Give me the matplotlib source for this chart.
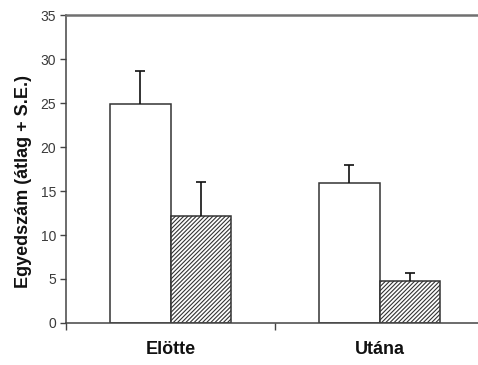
import matplotlib
matplotlib.use("Agg")
import matplotlib.pyplot as plt
import numpy as np

plt.rcParams['font.family'] = ['Liberation Sans', 'DejaVu Sans']
plt.rcParams['hatch.linewidth'] = 0.8
plt.rcParams['hatch.color'] = '#333333'

# Data: mean counts with standard error, before/after
categories = ["Elötte", "Utána"]
group_a_mean = [24.9, 15.9]
group_a_se = [3.7, 2.1]
group_b_mean = [12.2, 4.75]
group_b_se = [3.8, 0.9]
y_ticks = [0, 5, 10, 15, 20, 25, 30, 35]

fig = plt.figure(figsize=(4.78, 3.65), dpi=100)
ax = fig.add_axes([66 / 478, 1 - 323 / 365, 418 / 478, 308 / 365])

centers = np.arange(len(categories)) + 0.5
width = 0.29
edge = '#333333'

ax.bar(centers - width / 2, group_a_mean, width, color='white',
       edgecolor=edge, linewidth=1.1, zorder=2)
ax.bar(centers + width / 2, group_b_mean, width, color='white',
       edgecolor=edge, linewidth=1.1, hatch='////////', zorder=2)

# One-sided (+SE) error bars; hide the lower caps
err_kw = dict(fmt='none', ecolor='#111111', elinewidth=1.2, capsize=3.3,
              capthick=1.2, zorder=3)
for xs, means, ses in ((centers - width / 2, group_a_mean, group_a_se),
                       (centers + width / 2, group_b_mean, group_b_se)):
    eb = ax.errorbar(xs, means, yerr=[np.zeros(len(ses)), ses], **err_kw)
    eb[1][0].set_visible(False)

ax.set_xlim(0, 2)
ax.set_ylim(0, 35)
ax.set_yticks(y_ticks)
ax.tick_params(axis='y', direction='out', length=4, width=1, color='#444444',
               labelsize=10, labelcolor='#3a3a3a', pad=3)

# Category boundaries as major ticks, names as minor labels
ax.set_xticks([0, 1, 2])
ax.set_xticklabels([])
ax.tick_params(axis='x', which='major', direction='out', length=5, width=1,
               color='#444444')
ax.set_xticks(centers, minor=True)
ax.set_xticklabels(categories, minor=True, fontsize=13, fontweight='bold',
                   color='#111111')
ax.tick_params(axis='x', which='minor', length=0, pad=13)

ax.spines['right'].set_visible(False)
ax.spines['top'].set_color('#707070')
ax.spines['top'].set_linewidth(1.8)
for s in ('left', 'bottom'):
    ax.spines[s].set_color('#444444')
    ax.spines[s].set_linewidth(1.1)

ax.set_ylabel("Egyedszám (átlag + S.E.)", fontsize=13, fontweight='bold',
              color='#111111')
ax.yaxis.set_label_coords(-0.082, 0.458)

fig.savefig("out.png", dpi=100)
